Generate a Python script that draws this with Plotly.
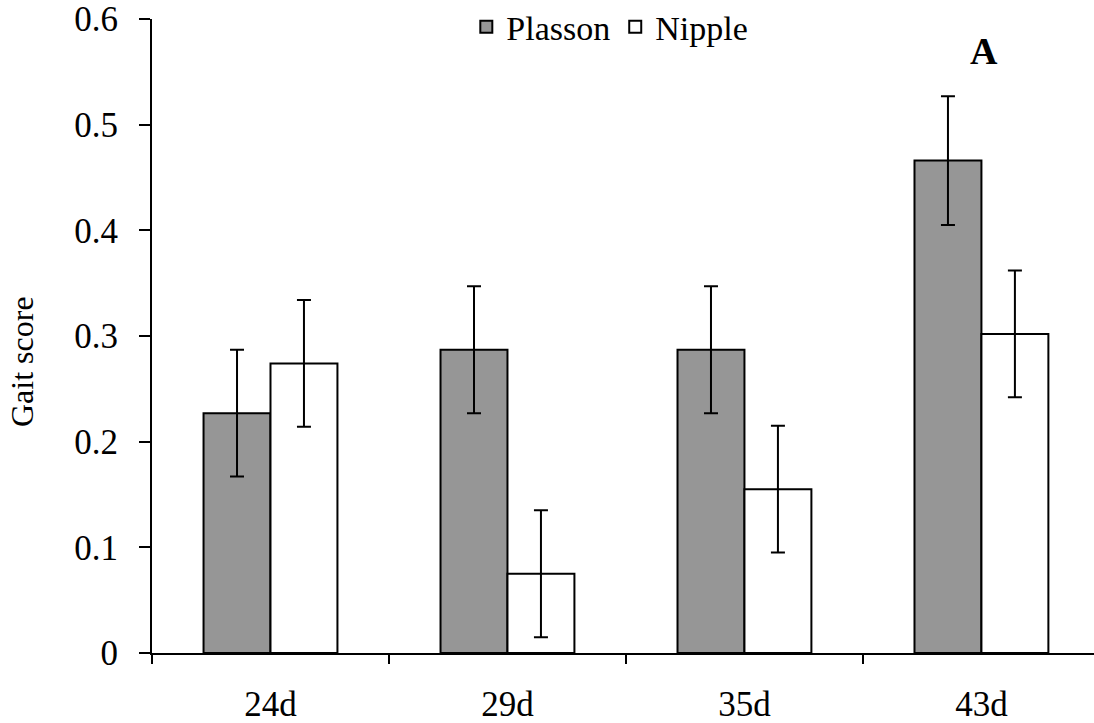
import plotly.graph_objects as go

categories = ["24d", "29d", "35d", "43d"]
plasson = [0.227, 0.287, 0.287, 0.466]
nipple = [0.274, 0.075, 0.155, 0.302]
plasson_err = [0.06, 0.06, 0.06, 0.061]
nipple_err = [0.06, 0.06, 0.06, 0.06]

FONT = "Liberation Serif, Times New Roman, serif"

fig = go.Figure()
fig.add_trace(go.Bar(
    name="Plasson", x=categories, y=plasson,
    marker=dict(color="#969696", line=dict(color="black", width=2)),
    error_y=dict(type="data", array=plasson_err, color="black", thickness=2, width=7),
))
fig.add_trace(go.Bar(
    name="Nipple", x=categories, y=nipple,
    marker=dict(color="white", line=dict(color="black", width=2)),
    error_y=dict(type="data", array=nipple_err, color="black", thickness=2, width=7),
))

fig.update_layout(
    width=1094, height=723,
    margin=dict(l=152, r=0, t=19, b=70, autoexpand=False),
    paper_bgcolor="white", plot_bgcolor="white",
    barmode="group", bargap=0.435, bargroupgap=0,
    font=dict(family=FONT, color="black", size=32),
    showlegend=True,
    legend=dict(orientation="h", x=0.486, xanchor="center", y=0.987, yanchor="middle",
                font=dict(size=34, family=FONT), bgcolor="rgba(0,0,0,0)"),
    xaxis=dict(
        range=[-0.5, 3.475], showline=True, linecolor="black", linewidth=2,
        ticks="outside", tickson="boundaries", ticklen=9, tickwidth=2, tickcolor="black",
        showgrid=False, tickfont=dict(size=35, family=FONT), ticklabelstandoff=19,
        ticklabeloverflow="allow",
    ),
    yaxis=dict(
        range=[0, 0.6], dtick=0.1, tick0=0, showline=True, linecolor="black", linewidth=2,
        ticks="outside", ticklen=11, tickwidth=2, tickcolor="black",
        showgrid=False, zeroline=False, tickfont=dict(size=35, family=FONT),
        ticklabelstandoff=14, ticklabeloverflow="allow",
    ),
    annotations=[
        dict(text="<b>A</b>", x=3, y=0.5695, xref="x", yref="y", showarrow=False,
             font=dict(size=38, family=FONT, color="black"), xshift=3),
        dict(text="Gait score", x=-0.138, y=0.459, xref="paper", yref="paper",
             showarrow=False, textangle=-90, xanchor="center", yanchor="middle",
             font=dict(size=32, family=FONT, color="black")),
    ],
)

fig.write_html(
    "out.html",
    config={"displayModeBar": False},
    post_script="document.body.style.margin='0';document.body.style.overflow='hidden';",
)
